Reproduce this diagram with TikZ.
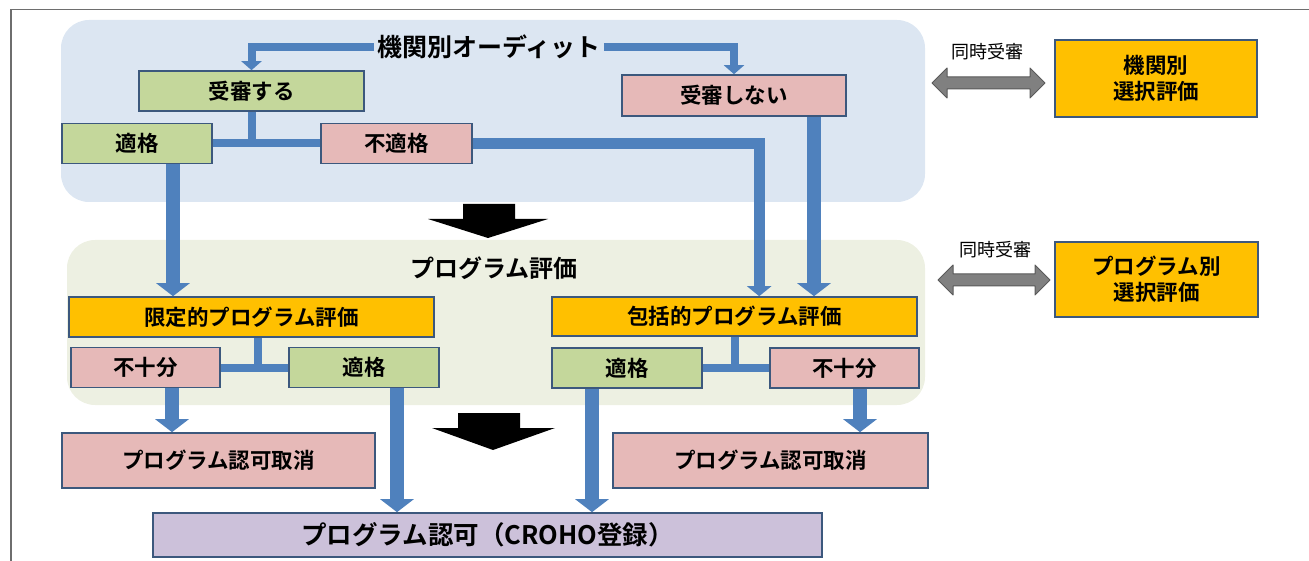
\documentclass[tikz,border=0pt]{standalone}
\usepackage{fontspec}
\usetikzlibrary{arrows.meta,calc}
\newfontfamily\jp{Noto Sans CJK JP}[BoldFont={* Bold}]
\definecolor{panelA}{RGB}{220,230,242}
\definecolor{panelB}{RGB}{237,240,226}
\definecolor{bgreen}{RGB}{196,215,155}
\definecolor{bpink}{RGB}{230,185,184}
\definecolor{byellow}{RGB}{255,192,0}
\definecolor{bpurple}{RGB}{204,193,218}
\definecolor{bline}{RGB}{60,88,125}
\definecolor{flow}{RGB}{79,129,189}
\definecolor{dgray}{RGB}{128,128,128}
\definecolor{dgrayline}{RGB}{90,90,90}
\definecolor{framecol}{RGB}{110,110,110}
\begin{document}
\begin{tikzpicture}[x=1pt,y=-1pt,
  box/.style={draw=bline, line width=1.6pt, inner sep=0pt, align=center,
    font=\jp\bfseries\fontsize{21.5}{26}\selectfont},
  gbox/.style={box, fill=bgreen},
  pbox/.style={box, fill=bpink},
  ybox/.style={box, fill=byellow},
  vbox/.style={box, fill=bpurple, font=\jp\bfseries\fontsize{25.5}{30}\selectfont},
  biglabel/.style={inner sep=3pt, font=\jp\bfseries\fontsize{25}{30}\selectfont},
  smalllabel/.style={inner sep=0pt, font=\jp\fontsize{18}{22}\selectfont},
  junction/.style={draw=flow, line width=8pt},
  thinarrow/.style={draw=flow, line width=8pt, -{Triangle[width=20pt,length=9pt]}},
  midarrow/.style={draw=flow, line width=11pt, -{Triangle[width=24pt,length=10pt]}},
  flowarrow/.style={draw=flow, line width=14pt, -{Triangle[width=33pt,length=13pt]}},
  blockarrow/.style={fill=black},
  grayarrow/.style={fill=dgray, draw=dgrayline, line width=1pt, line join=round}
]
\useasboundingbox (0,0) rectangle (1309,561);
% frame
\draw[framecol, line width=1.5pt] (11,561) -- (11,9.5) -- (1309,9.5);
% panels
\fill[panelA, rounded corners=28pt] (61,20) rectangle (925,202);
\fill[panelB, rounded corners=28pt] (67,240) rectangle (925,405);

% labels
\node[biglabel] (audit) at (489,47) {機関別オーディット};
\node[biglabel, font=\jp\bfseries\fontsize{24}{28}\selectfont] (proglabel) at (494,268) {プログラム評価};
\node[smalllabel] (doji1) at (987,52) {同時受審};
\node[smalllabel] (doji2) at (995,250) {同時受審};

% boxes
\node[gbox, minimum width=225pt, minimum height=40pt] (jushin) at (251.5,91) {受審する};
\node[pbox, minimum width=224pt, minimum height=41pt] (jushinnai) at (734,95.5) {受審しない};
\node[gbox, minimum width=150pt, minimum height=40pt] (tek1) at (137,143.5) {適格};
\node[pbox, minimum width=151pt, minimum height=40pt] (futek) at (396.5,143.5) {不適格};
\node[ybox, minimum width=365pt, minimum height=40pt] (gentei) at (251.5,317) {限定的プログラム評価};
\node[pbox, minimum width=149pt, minimum height=40pt] (fuju1) at (145.5,367.5) {不十分};
\node[gbox, minimum width=150pt, minimum height=40pt] (tek2) at (364,367.5) {適格};
\node[ybox, minimum width=365pt, minimum height=39pt] (hokatsu) at (734.5,316.5) {包括的プログラム評価};
\node[gbox, minimum width=150pt, minimum height=40pt] (tek3) at (627,368) {適格};
\node[pbox, minimum width=149pt, minimum height=40pt] (fuju2) at (844.5,368) {不十分};
\node[pbox, minimum width=313pt, minimum height=55pt] (tori1) at (218.5,460.5) {プログラム認可取消};
\node[pbox, minimum width=315pt, minimum height=55pt] (tori2) at (770.5,460.5) {プログラム認可取消};
\node[vbox, minimum width=669pt, minimum height=44pt] (ninka) at (487.5,535) {プログラム認可（CROHO登録）};
\node[ybox, minimum width=202pt, minimum height=77pt] (selA) at (1156,78.5) {機関別\\選択評価};
\node[ybox, minimum width=203pt, minimum height=75pt] (selB) at (1156.5,279.5) {プログラム別\\選択評価};

% connectors
\draw[thinarrow] (audit.west) -| (jushin.north);
\draw[thinarrow] (audit.east) -| (jushinnai.north);
\draw[junction] (jushin.south) -- (jushin.south |- tek1.east);
\draw[junction] (tek1.east) -- (futek.west);
\coordinate (d1) at ($(hokatsu.north west)+(208,0)$);
\draw[midarrow] (futek.east) -| (d1);
\coordinate (e1) at ($(jushinnai.south)+(80,0)$);
\draw[flowarrow] (e1) -- (e1 |- hokatsu.north);
\coordinate (f1) at ($(tek1.south)+(36,0)$);
\draw[flowarrow] (f1) -- (f1 |- gentei.north);
\coordinate (g1) at ($(gentei.south)+(6,0)$);
\draw[junction] (g1) -- (g1 |- fuju1.east);
\draw[junction] (fuju1.east) -- (tek2.west);
\draw[junction] (hokatsu.south) -- (hokatsu.south |- tek3.east);
\draw[junction] (tek3.east) -- (fuju2.west);
\coordinate (i1) at ($(fuju1.south)+(26.5,0)$);
\draw[flowarrow] (i1) -- (i1 |- tori1.north);
\coordinate (j1) at ($(tek2.south)+(33,0)$);
\draw[flowarrow] (j1) -- (j1 |- ninka.north);
\coordinate (k1) at ($(tek3.south)+(-35,0)$);
\draw[flowarrow] (k1) -- (k1 |- ninka.north);
\coordinate (l1) at ($(fuju2.south)+(15.5,0)$);
\draw[flowarrow] (l1) -- (l1 |- tori2.north);

% big block arrows
\fill[blockarrow] (463,204) -- (515,204) -- (515,219) -- (548,219) -- (488,238) -- (428,219) -- (463,219) -- cycle;
\fill[blockarrow] (458,413) -- (520,413) -- (520,428) -- (555,428) -- (493,450) -- (432,428) -- (458,428) -- cycle;

% gray double arrows
\draw[grayarrow] (932,83) -- (947,68) -- (947,77) -- (1030,77) -- (1030,68) -- (1045,83) -- (1030,98) -- (1030,89) -- (947,89) -- (947,98) -- cycle;
\draw[grayarrow] (938,280) -- (953,265) -- (953,274) -- (1035,274) -- (1035,265) -- (1050,280) -- (1035,295) -- (1035,286) -- (953,286) -- (953,295) -- cycle;
\end{tikzpicture}
\end{document}
